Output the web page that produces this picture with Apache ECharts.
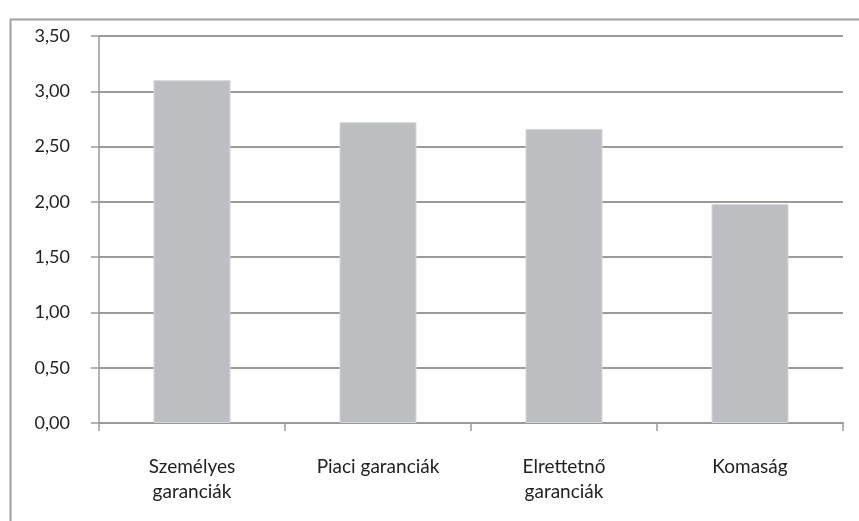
<!DOCTYPE html>
<html>
<head>
<meta charset="utf-8">
<script src="https://cdn.jsdelivr.net/npm/echarts@6/dist/echarts.min.js"></script>
<style>
  html, body { margin: 0; padding: 0; background: #fff; }
  #chart { width: 859px; height: 521px; }
</style>
</head>
<body>
<div id="chart"></div>
<script>
// kategóriák és értékek
const categories = ['Személyes\ngaranciák', 'Piaci garanciák', 'Elrettetnő\ngaranciák', 'Komaság'];
const values = [3.10, 2.72, 2.66, 1.98];

const chart = echarts.init(document.getElementById('chart'));

const option = {
  animation: false,
  backgroundColor: '#fff',
  graphic: [{
    type: 'rect',
    left: 8,
    top: 17,
    shape: { width: 900, height: 600 },
    style: { fill: 'none', stroke: '#a0a0a0', lineWidth: 2 },
    silent: true
  }],
  grid: {
    left: 99,
    right: 16,
    top: 36,
    bottom: 98
  },
  xAxis: {
    type: 'category',
    data: categories,
    boundaryGap: true,
    axisLine: { show: true, lineStyle: { color: '#9a9a9a', width: 2 } },
    axisTick: { show: true, length: 8, lineStyle: { color: '#9a9a9a', width: 1.5 } },
    axisLabel: {
      color: '#222',
      fontFamily: 'Lato',
      fontSize: 19,
      lineHeight: 25,
      margin: 31
    }
  },
  yAxis: {
    type: 'value',
    min: 0,
    max: 3.5,
    interval: 0.5,
    axisLine: { show: true, lineStyle: { color: '#9a9a9a', width: 1.5 } },
    axisTick: { show: true, length: 8, lineStyle: { color: '#9a9a9a', width: 1.5 } },
    splitLine: { show: true, lineStyle: { color: '#9a9a9a', width: 2 } },
    axisLabel: {
      color: '#222',
      fontFamily: 'Lato',
      fontSize: 18,
      margin: 29,
      formatter: v => v.toFixed(2).replace('.', ',')
    }
  },
  series: [{
    type: 'bar',
    data: values,
    barWidth: 77,
    itemStyle: {
      color: '#bdbec2',
      borderColor: '#d4d5d8',
      borderWidth: 1
    }
  }]
};

chart.setOption(option);
</script>
</body>
</html>
